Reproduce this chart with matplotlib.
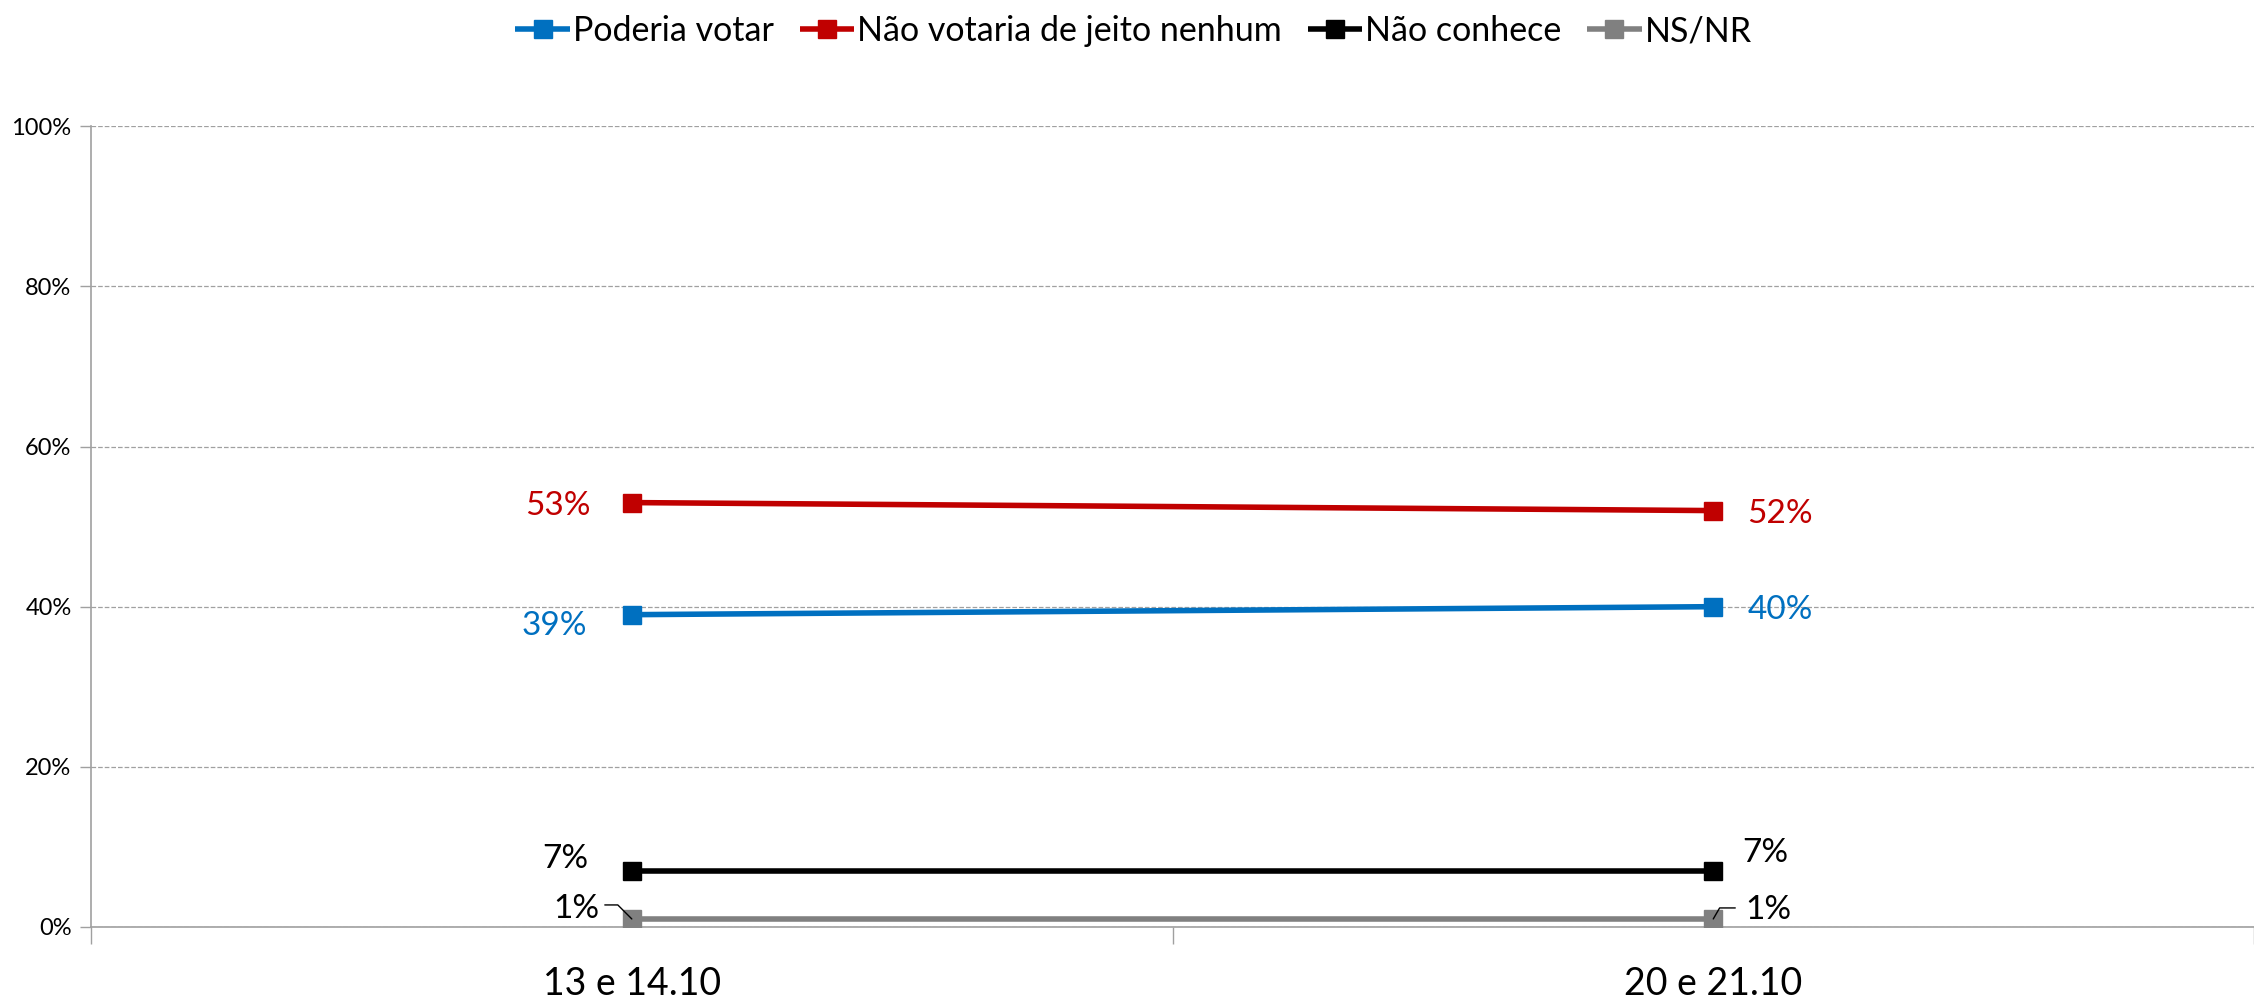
import numpy as np
import matplotlib
matplotlib.use("Agg")
import matplotlib.pyplot as plt
from matplotlib.ticker import FixedLocator, PercentFormatter

plt.rcParams['font.family'] = ['Lato', 'DejaVu Sans']

# dados
datas = ["13 e 14.10", "20 e 21.10"]
series = ["Poderia votar", "Não votaria de jeito nenhum", "Não conhece", "NS/NR"]
poderia = [39, 40]
nao_votaria = [53, 52]
nao_conhece = [7, 7]
ns_nr = [1, 1]
valores = [poderia, nao_votaria, nao_conhece, ns_nr]
cores = ["#0070C0", "#C00000", "#000000", "#808080"]
cores_rotulo = ["#0070C0", "#C00000", "#000000", "#000000"]

# deslocamento dos rótulos (pixels) para cada ponto: (esquerda, direita)
offsets = [
    [(-77, -11), (67, -3)],
    [(-74, -3), (67, -3)],
    [(-66, 12), (52, 18)],
    [(-55, 10), (55, 9)],
]

fig = plt.figure(figsize=(22.54, 10.02), dpi=100)
ax = fig.add_axes([0.0404, 0.0749, 0.9596, 0.7991])

x = np.arange(len(datas))
for nome, vals, cor in zip(series, valores, cores):
    ax.plot(x, vals, color=cor, linewidth=4.0, marker='s', markersize=13.5,
            label=nome, solid_capstyle='butt')

for vals, cor, offs in zip(valores, cores_rotulo, offsets):
    for xi, v, off in zip(x, vals, offs):
        ax.annotate(f"{v}%", xy=(xi, v), xytext=off, textcoords='offset pixels',
                    ha='center', va='center', fontsize=24, color=cor)

# linhas de chamada dos rótulos de 1%
ax.annotate("", xy=(0, ns_nr[0]), xytext=(-27, 14), textcoords='offset pixels',
            arrowprops=dict(arrowstyle='-', color='black', lw=1,
                            connectionstyle='angle,angleA=0,angleB=-45,rad=0',
                            shrinkA=0, shrinkB=0))
ax.annotate("", xy=(1, ns_nr[1]), xytext=(22, 11), textcoords='offset pixels',
            arrowprops=dict(arrowstyle='-', color='black', lw=1,
                            connectionstyle='angle,angleA=0,angleB=60,rad=0',
                            shrinkA=0, shrinkB=0))

ax.set_xlim(-0.5, 1.5)
ax.set_ylim(0, 100)
ax.yaxis.set_major_locator(FixedLocator([0, 20, 40, 60, 80, 100]))
ax.yaxis.set_major_formatter(PercentFormatter(decimals=0))
ax.xaxis.set_major_locator(FixedLocator([-0.5, 0.5, 1.5]))
ax.xaxis.set_major_formatter(plt.NullFormatter())
ax.xaxis.set_minor_locator(FixedLocator(x))
ax.set_xticklabels(datas, minor=True)
ax.tick_params(axis='x', which='minor', length=0, labelsize=27, pad=28)
ax.tick_params(axis='x', which='major', length=12, color='#A0A0A0', width=1)
ax.tick_params(axis='y', length=8, color='#A0A0A0', width=1, labelsize=17, pad=6)

ax.grid(axis='y', linestyle='--', color='#A0A0A0', linewidth=0.9)
ax.set_axisbelow(True)
for s in ['top', 'right']:
    ax.spines[s].set_visible(False)
for s in ['left', 'bottom']:
    ax.spines[s].set_color('#A0A0A0')
    ax.spines[s].set_linewidth(1.2)
ax.spines['bottom'].set_zorder(0)

fig.legend(loc='upper center', bbox_to_anchor=(0.503, 1.005), ncol=4, frameon=False,
           fontsize=24.5, handlelength=1.6, handletextpad=0.1, columnspacing=0.75,
           borderaxespad=0.2)

fig.savefig("out.png", dpi=100)
